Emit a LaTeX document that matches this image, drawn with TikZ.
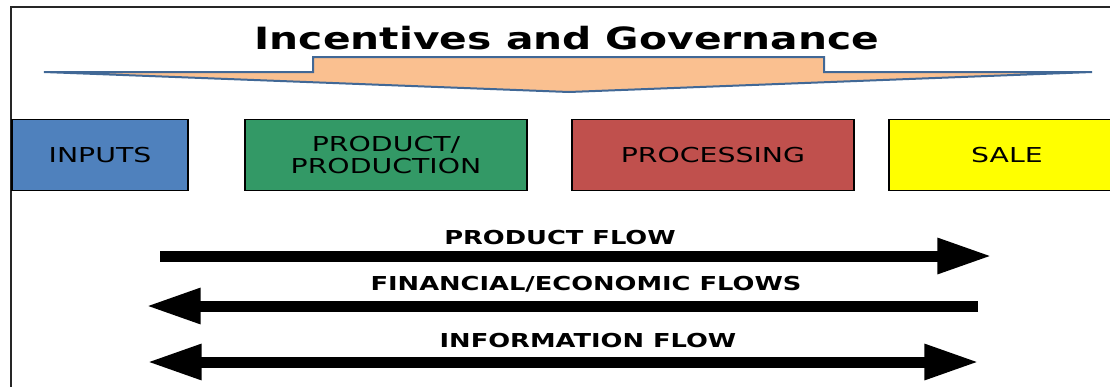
\documentclass[tikz,border=0pt]{standalone}
\usepackage{fontspec}
\usepackage{tikz}
\usetikzlibrary{arrows.meta}
\newfontfamily\titlefont[FakeStretch=1.33]{DejaVu Sans}
\newfontfamily\boxfont[FakeStretch=1.38]{DejaVu Sans}
\newfontfamily\flowfont[FakeStretch=1.34]{DejaVu Sans}
\definecolor{bannerfill}{RGB}{250,192,144}
\definecolor{bannerline}{RGB}{65,104,150}
\definecolor{inputsblue}{RGB}{79,129,189}
\definecolor{prodgreen}{RGB}{51,153,102}
\definecolor{procred}{RGB}{192,80,77}
\definecolor{saleyellow}{RGB}{255,255,0}
\tikzstyle{stage} = [rectangle, 
minimum height=53pt, 
text centered, 
align=center, 
draw=black, 
line width=1.2pt, 
inner sep=0pt, 
font=\boxfont\fontsize{15.4}{16.5}\selectfont]
\tikzstyle{flowlabel} = [inner sep=0pt, 
anchor=base, 
font=\flowfont\bfseries\fontsize{14.4}{16}\selectfont]
\tikzstyle{flow} = [line width=8.25pt, -{Triangle[length=41pt,width=25pt]}]
\tikzstyle{twoflow} = [line width=8.25pt, {Triangle[length=41pt,width=25pt]}-{Triangle[length=41pt,width=25pt]}]

\begin{document}
\begin{tikzpicture}[x=0.75pt, y=-0.75pt]

\useasboundingbox (0,0) rectangle (1110,387);
\clip (0,0) rectangle (1110,387);

% frame
\draw [line width=1.5pt, black!85] (1110,7) -- (11,7) -- (11,387);

% banner
\node (title) [inner sep=0pt, anchor=base, font=\titlefont\bfseries\fontsize{23}{28}\selectfont] at (567,49) {Incentives and Governance};
\draw [fill=bannerfill, draw=bannerline, line width=1.5pt, line join=miter] 
  (44,72) -- (313,72) -- (313,57) -- (824,57) -- (824,72) -- (1092,72) -- (569,92) -- cycle;

% stages
\node (inputs) [stage, fill=inputsblue, minimum width=132pt] at (100,155) {INPUTS};
\node (product) [stage, fill=prodgreen, minimum width=211.5pt] at (386,155) {PRODUCT/\\PRODUCTION};
\node (processing) [stage, fill=procred, minimum width=211.5pt] at (713,155) {PROCESSING};
\node (sale) [stage, fill=saleyellow, minimum width=177pt] at (1007,155) {SALE};

% flows
\coordinate (p1) at (160,256);
\coordinate (p2) at (992,256);
\coordinate (f1) at (978,306);
\coordinate (f2) at (146,306);
\coordinate (i1) at (147,362);
\coordinate (i2) at (979,362);

\node (prodflow) [flowlabel] at (560,244) {PRODUCT FLOW};
\node (finflow) [flowlabel] at (586,290) {FINANCIAL/ECONOMIC FLOWS};
\node (infoflow) [flowlabel] at (588,347) {INFORMATION FLOW};

\draw [flow] (p1) -- (p2);
\draw [flow] (f1) -- (f2);
\draw [twoflow] (i1) -- (i2);

\end{tikzpicture}
\end{document}
